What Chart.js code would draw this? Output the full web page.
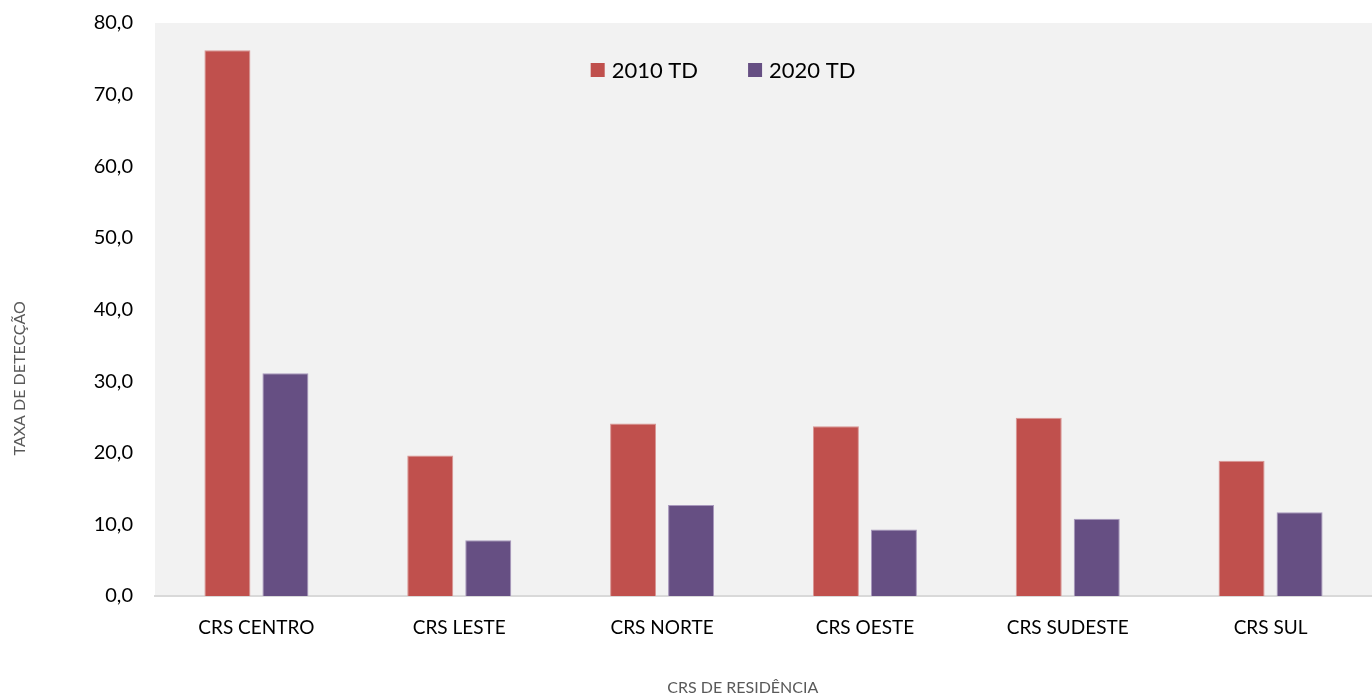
<!DOCTYPE html>
<html>
<head>
<meta charset="utf-8">
<script src="https://cdn.jsdelivr.net/npm/chart.js@4/dist/chart.umd.min.js"></script>
<style>
  html, body { margin: 0; padding: 0; background: #ffffff; }
  #wrap { width: 1372px; height: 698px; }
</style>
</head>
<body>
<div id="wrap"><canvas id="chart"></canvas></div>
<script>
const categories = ['CRS CENTRO', 'CRS LESTE', 'CRS NORTE', 'CRS OESTE', 'CRS SUDESTE', 'CRS SUL'];
const td2010 = [76.2, 19.6, 24.1, 23.7, 24.9, 18.9];
const td2020 = [31.1, 7.8, 12.7, 9.3, 10.8, 11.7];
const seriesNames = ['2010 TD', '2020 TD'];
const yTitle = 'TAXA DE DETECÇÃO';
const xTitle = 'CRS DE RESIDÊNCIA';

const FONT = 'Lato, "Open Sans", sans-serif';

// gray plot background, legend inside the plot and axis titles, drawn by hand
const plotDecor = {
    id: 'plotDecor',
    beforeDraw(chart) {
        const { ctx, chartArea: a } = chart;
        ctx.save();
        ctx.fillStyle = '#f2f2f2';
        ctx.fillRect(a.left, a.top, a.right - a.left, a.bottom - a.top);
        ctx.restore();
    },
    afterDraw(chart) {
        const { ctx, chartArea: a } = chart;
        ctx.save();
        // legend
        ctx.font = '22px ' + FONT;
        ctx.textBaseline = 'middle';
        ctx.textAlign = 'left';
        let x = a.left + (a.right - a.left) * 0.358;
        const y = 70;
        chart.data.datasets.forEach((ds) => {
            ctx.fillStyle = ds.backgroundColor;
            ctx.fillRect(x, y - 7, 14, 14);
            ctx.fillStyle = '#000000';
            ctx.fillText(ds.label, x + 21, y + 1);
            x += 21 + ctx.measureText(ds.label).width + 50;
        });
        // axis titles
        ctx.fillStyle = '#595959';
        ctx.font = '16px ' + FONT;
        ctx.textAlign = 'center';
        ctx.fillText(xTitle, a.left + (a.right - a.left) * 0.483, 688);
        ctx.translate(20, a.top + (a.bottom - a.top) * 0.62);
        ctx.rotate(-Math.PI / 2);
        ctx.fillText(yTitle, 0, 0);
        ctx.restore();
    }
};

new Chart(document.getElementById('chart').getContext('2d'), {
    type: 'bar',
    data: {
        labels: categories,
        datasets: [{
            label: seriesNames[0],
            data: td2010,
            backgroundColor: '#c0504d',
            borderColor: '#d99694',
            borderWidth: 1
        }, {
            label: seriesNames[1],
            data: td2020,
            backgroundColor: '#664f83',
            borderColor: '#a898bd',
            borderWidth: 1
        }]
    },
    options: {
        responsive: true,
        maintainAspectRatio: false,
        animation: false,
        layout: { padding: { top: 23, right: 0, left: 0, bottom: 0 } },
        datasets: {
            bar: { categoryPercentage: 0.572, barPercentage: 0.793 }
        },
        scales: {
            x: {
                grid: { display: false, drawTicks: false },
                border: { display: true, color: '#d9d9d9', width: 2 },
                ticks: {
                    color: '#000000',
                    font: { family: FONT, size: 19 },
                    padding: 20,
                    maxRotation: 0
                },
                afterFit(scale) {
                    scale.height = 102;
                    scale.paddingLeft = 0;
                    scale.paddingRight = 0;
                }
            },
            y: {
                min: 0,
                max: 80,
                grid: { display: false, drawTicks: false },
                border: { display: false },
                ticks: {
                    stepSize: 10,
                    color: '#000000',
                    font: { family: FONT, size: 20 },
                    padding: 22,
                    callback: (v) => v.toFixed(1).replace('.', ',')
                },
                afterFit(scale) {
                    scale.width = 155;
                    scale.paddingTop = 0;
                    scale.paddingBottom = 0;
                }
            }
        },
        plugins: {
            legend: { display: false },
            tooltip: { enabled: false }
        }
    },
    plugins: [plotDecor]
});
</script>
</body>
</html>
